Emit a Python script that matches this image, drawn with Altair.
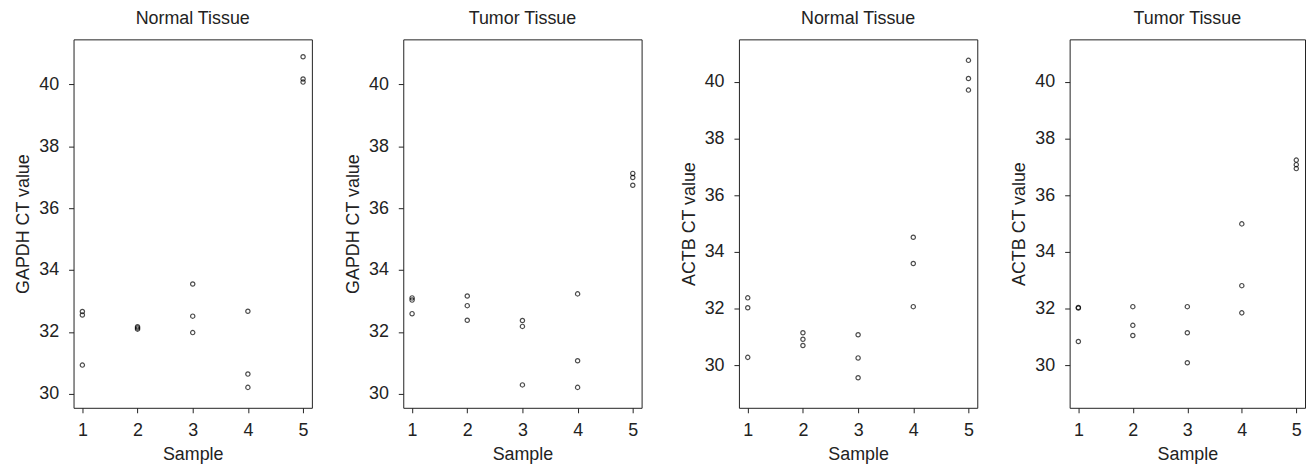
import altair as alt
import pandas as pd

sample_ids = [1, 2, 3, 4, 5]

# CT values per sample (three replicates each)
gapdh_normal = [[32.66, 32.55, 30.93], [32.09, 32.13, 32.17], [33.55, 32.51, 31.98],
                [32.67, 30.64, 30.21], [40.89, 40.17, 40.07]]
gapdh_tumor = [[33.10, 33.03, 32.59], [33.16, 32.85, 32.38], [32.37, 32.18, 30.29],
               [33.23, 31.07, 30.21], [37.12, 36.99, 36.74]]
actb_normal = [[32.38, 32.03, 30.28], [31.15, 30.92, 30.70], [31.08, 30.26, 29.56],
               [34.52, 33.59, 32.07], [40.76, 40.12, 39.71]]
actb_tumor = [[32.04, 32.02, 30.84], [32.07, 31.41, 31.05], [32.07, 31.15, 30.09],
              [34.99, 32.81, 31.85], [37.24, 37.08, 36.94]]

panel_titles = ["Normal Tissue", "Tumor Tissue", "Normal Tissue", "Tumor Tissue"]
y_titles = ["GAPDH CT value", "GAPDH CT value", "ACTB CT value", "ACTB CT value"]
y_domains = [[29.55, 41.45], [29.55, 41.45], [28.5, 41.5], [28.5, 41.5]]
y_ticks = [30, 32, 34, 36, 38, 40]
x_domain = [0.84, 5.16]
panel_widths = [240, 240, 240, 237]

FONT = "Liberation Sans"
INK = "#222222"


def frame(values):
    rows = []
    for s, reps in zip(sample_ids, values):
        for v in reps:
            rows.append({"Sample": s, "CT": v})
    return pd.DataFrame(rows)


def panel(values, title, ytitle, ydom, width):
    df = frame(values)
    return alt.Chart(df, title=alt.TitleParams(
        title, fontSize=18, fontWeight="normal", font=FONT, color=INK,
        offset=-3, baseline="alphabetic", anchor="middle")).mark_point(
        shape="circle", filled=False, size=19, strokeWidth=1.2, color="black"
    ).encode(
        x=alt.X("Sample:Q", scale=alt.Scale(domain=x_domain, nice=False, zero=False),
                axis=alt.Axis(values=sample_ids, title="Sample", labelPadding=9,
                              minExtent=32, maxExtent=32, titlePadding=6)),
        y=alt.Y("CT:Q", scale=alt.Scale(domain=ydom, nice=False, zero=False),
                axis=alt.Axis(values=y_ticks, title=ytitle, labelPadding=10,
                              minExtent=36, maxExtent=36, titlePadding=5)),
    ).properties(width=width, height=371)


p = [panel(v, t, yt, yd, w) for v, t, yt, yd, w in
     zip([gapdh_normal, gapdh_tumor, actb_normal, actb_tumor],
         panel_titles, y_titles, y_domains, panel_widths)]

chart = alt.hconcat(
    alt.hconcat(p[0], p[1], spacing=31),
    alt.hconcat(p[2], p[3], spacing=32),
    spacing=37,
).properties(
    padding={"left": 6, "top": 0, "right": 0, "bottom": 0}
).configure_view(
    stroke=INK, strokeWidth=1
).configure_axis(
    grid=False, domain=False, ticks=True, tickSize=5, tickWidth=1, tickColor=INK,
    labelFont=FONT, labelFontSize=18, labelColor=INK,
    titleFont=FONT, titleFontSize=18, titleFontWeight="normal", titleColor=INK,
)

chart.save("out.html", embed_options={"renderer": "svg", "actions": False})
